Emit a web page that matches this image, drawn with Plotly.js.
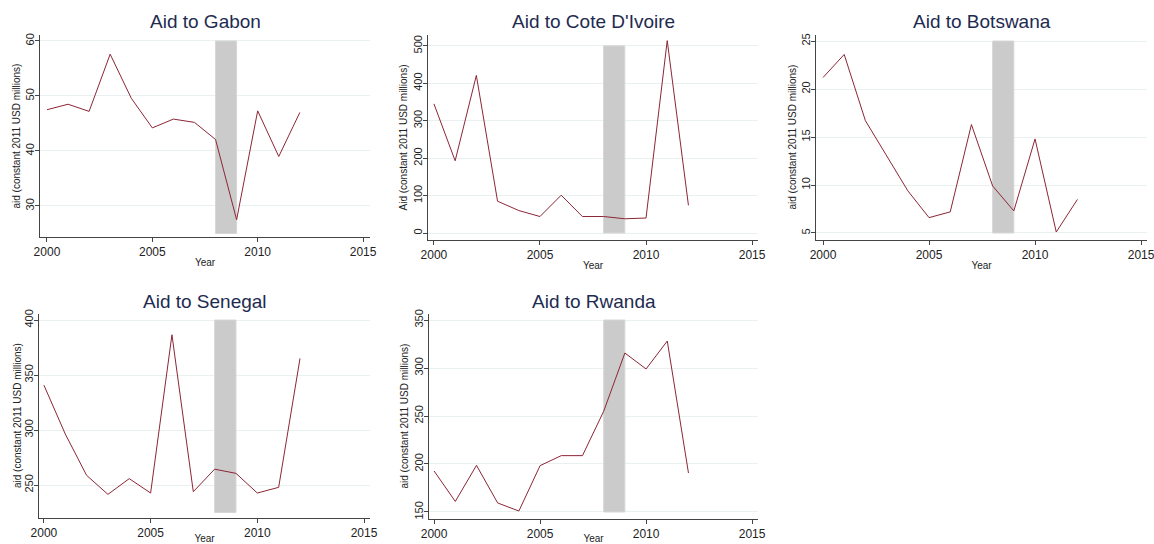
<!DOCTYPE html>
<html>
<head>
<meta charset="utf-8">
<script src="https://cdn.plot.ly/plotly-3.0.1.min.js"></script>
<style>html,body{margin:0;padding:0;background:#fff}#chart{width:1154px;height:544px}</style>
</head>
<body>
<div id="chart"></div>
<script>
const years = [2000,2001,2002,2003,2004,2005,2006,2007,2008,2009,2010,2011,2012];
const countries = ["Gabon","Cote D'Ivoire","Botswana","Senegal","Rwanda"];
const yTitles = ["aid (constant 2011 USD millions)","Aid (constant 2011 USD millions)","aid (constant 2011 USD millions)","aid (constant 2011 USD millions)","aid (constant 2011 USD millions)"];
const gabon = [47.5,48.5,47.2,57.6,49.6,44.2,45.8,45.2,42.1,27.5,47.3,39.0,47.0];
const coteDIvoire = [345,193,421,85,60,44,101,44,44,38,40,514,74];
const botswana = [21.2,23.6,16.7,13.0,9.4,6.6,7.2,16.3,9.9,7.3,14.8,5.1,8.5];
const senegal = [340.8,296.4,258.8,241.5,255.8,242.7,386.6,243.9,264.4,260.6,242.7,247.9,365.1];
const rwanda = [192.7,161,198.6,159.4,151,198.3,208.7,208.7,254.9,315.6,299,328.1,190.6];
const series = [gabon,coteDIvoire,botswana,senegal,rwanda];
const xTicks = [2000,2005,2010,2015];
const yTicks = [[30,40,50,60],[0,100,200,300,400,500],[5,10,15,20,25],[250,300,350,400],[150,200,250,300,350]];
const shadeStart = 2008, shadeEnd = 2009;
const shadeLow = [25,0,5,225,150];
const shadeHigh = [60,500,25,400,350];

// layout geometry (pixels)
const W = 1154, H = 544;
const px = [[40,370],[428,758],[816,1147],[39,370],[429,758]];
const py = [[35,237],[35,240],[35,240],[314,518],[314,519]];
const yTitleX = [15.5,403,792,17,404];
const xRanges = [[1999.67,2015.33],[1999.72,2015.28],[1999.67,2015.28],[1999.77,2015.28],[1999.76,2015.28]];
const yRanges = [[24.36,61.09],[-18.7,529],[4.27,25.63],[220,405.5],[142.7,356.25]];

const FONT = "Liberation Sans, Arial, sans-serif";
const lineColor = "#8c2636";
const traces = [];
const shapes = [];
const annotations = [];
const layout = {
  width: W, height: H,
  margin: {l:0,r:0,t:0,b:0},
  paper_bgcolor: "#ffffff", plot_bgcolor: "#ffffff",
  showlegend: false,
  font: {family: FONT, color: "#222"}
};
series.forEach((vals, i) => {
  const n = i === 0 ? "" : String(i+1);
  traces.push({
    x: years, y: vals, type: "scatter", mode: "lines",
    xaxis: "x"+n, yaxis: "y"+n,
    line: {color: lineColor, width: 1},
    hoverinfo: "skip"
  });
  shapes.push({
    type: "rect", xref: "x"+n, yref: "y"+n,
    x0: shadeStart, x1: shadeEnd, y0: shadeLow[i], y1: shadeHigh[i],
    fillcolor: "#cbcbcb", line: {color: "#d6d6d6", width: 1}, layer: "between"
  });
  layout["xaxis"+n] = {
    domain: [px[i][0]/W, px[i][1]/W],
    range: xRanges[i], anchor: "y"+n,
    tickvals: xTicks, ticks: "outside", ticklen: 4, tickcolor: "#444",
    showline: true, linecolor: "#444", linewidth: 1,
    showgrid: false, zeroline: false,
    ticklabeloverflow: "allow",
    tickfont: {size: 12, color: "#222", family: FONT},
    title: {text: "Year", font: {size: 10, color: "#222", family: FONT}, standoff: 0},
    automargin: false, fixedrange: true
  };
  layout["yaxis"+n] = {
    domain: [1 - py[i][1]/H, 1 - py[i][0]/H],
    range: yRanges[i], anchor: "x"+n,
    tickvals: yTicks[i], ticks: "outside", ticklen: 4, tickcolor: "#444",
    tickangle: -90, ticklabelstandoff: -3,
    showline: true, linecolor: "#444", linewidth: 1,
    showgrid: true, gridcolor: "#e8f0f0", gridwidth: 1, zeroline: false,
    ticklabeloverflow: "allow",
    tickfont: {size: 11, color: "#222", family: FONT},
    automargin: false, fixedrange: true
  };
  annotations.push({
    text: "Aid to " + countries[i],
    xref: "paper", yref: "paper",
    x: (px[i][0] + px[i][1]) / 2 / W, y: 1 - (py[i][0] - 13) / H,
    xanchor: "center", yanchor: "middle", showarrow: false,
    font: {size: 19, color: "#1e2b50", family: FONT}
  });
  annotations.push({
    text: yTitles[i], textangle: -90,
    xref: "paper", yref: "paper",
    x: yTitleX[i] / W, y: 1 - (py[i][0] + py[i][1]) / 2 / H,
    xanchor: "center", yanchor: "middle", showarrow: false,
    font: {size: 10, color: "#222", family: FONT}
  });
});
layout.shapes = shapes;
layout.annotations = annotations;
Plotly.newPlot("chart", traces, layout, {displayModeBar: false, staticPlot: true});
</script>
</body>
</html>
